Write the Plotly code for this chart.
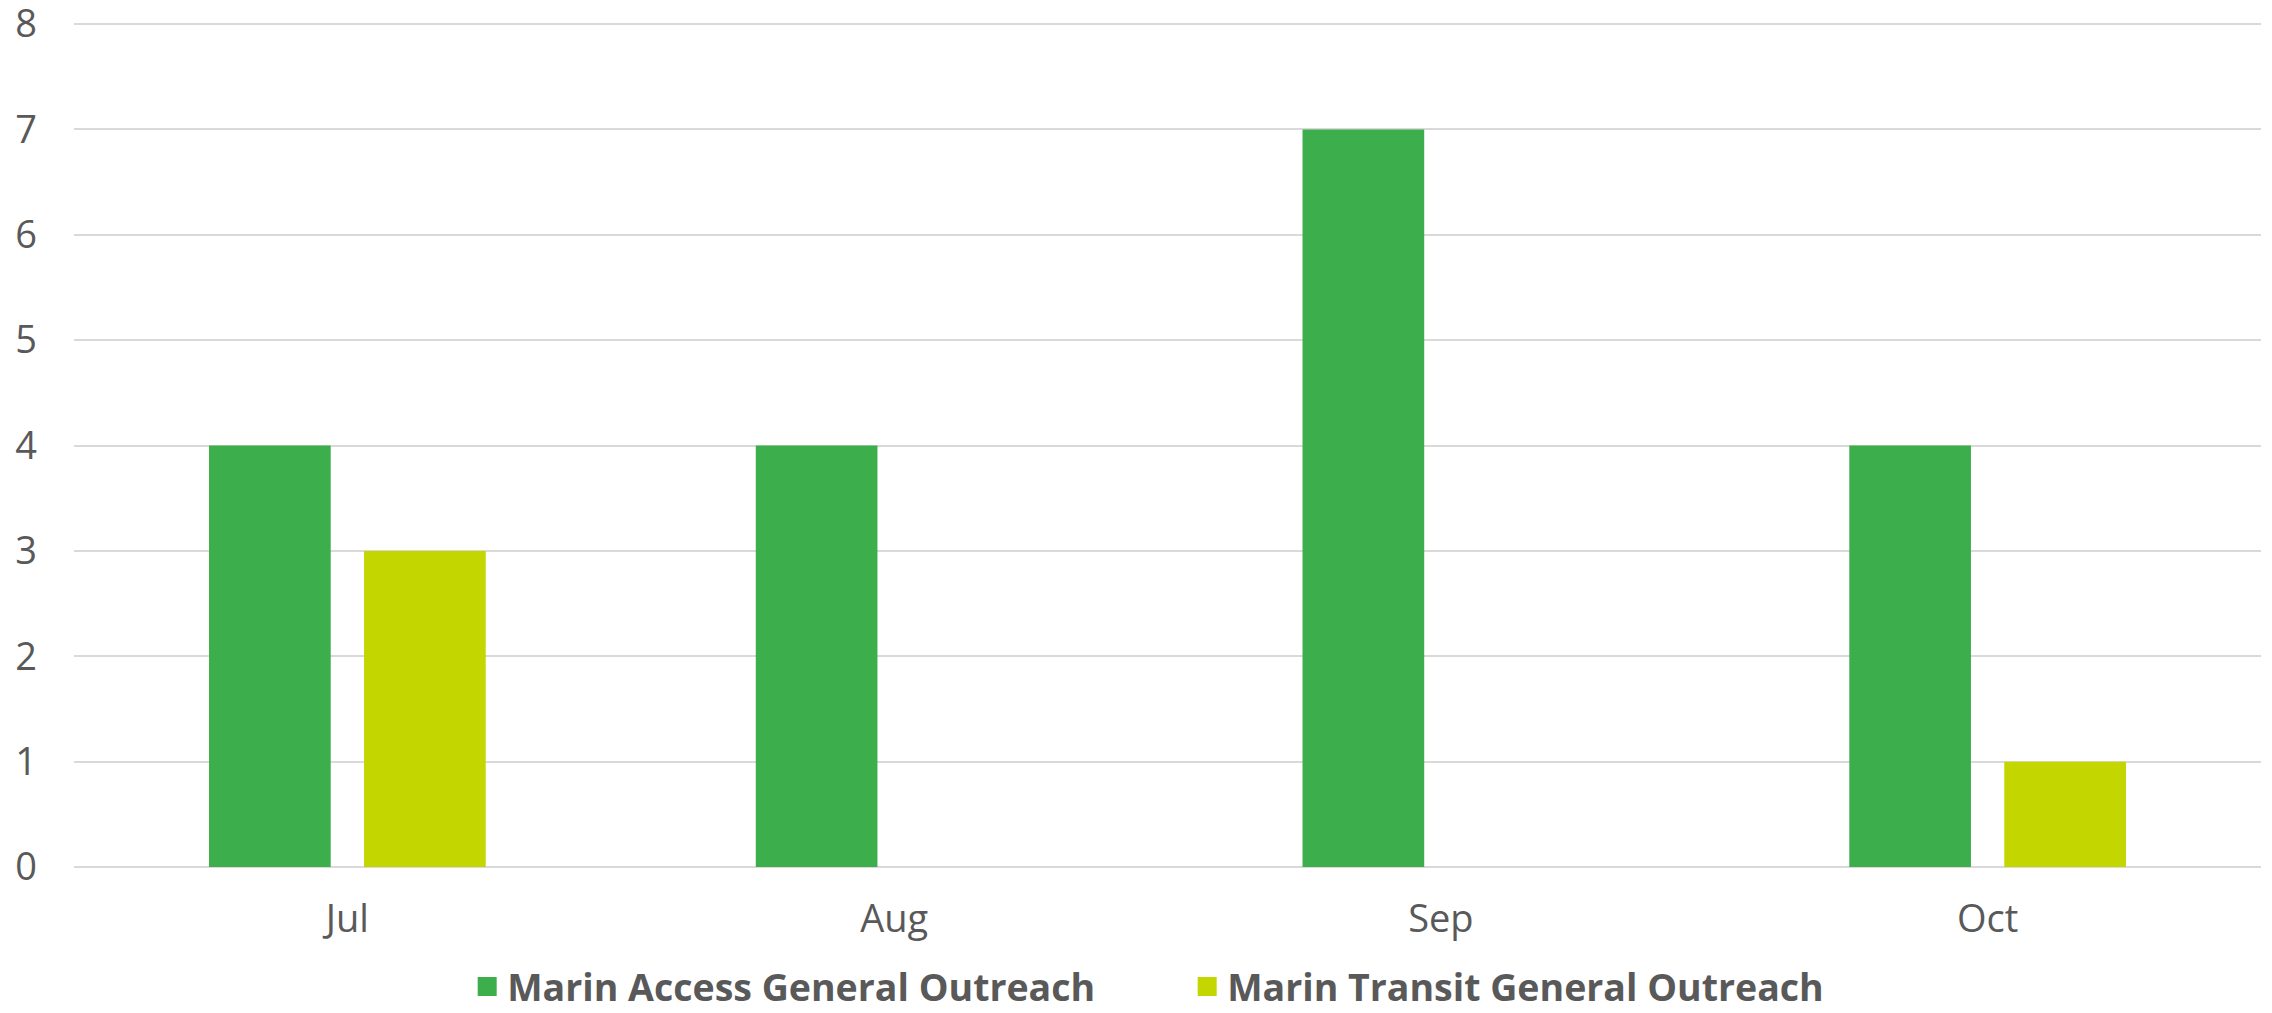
import plotly.graph_objects as go

months = ["Jul", "Aug", "Sep", "Oct"]
series_names = ["Marin Access General Outreach", "Marin Transit General Outreach"]
access_vals = [4, 4, 7, 4]
transit_vals = [3, None, None, 1]
colors = ["#3CAE4B", "#C3D600"]

fig = go.Figure()
for name, vals, col in zip(series_names, [access_vals, transit_vals], colors):
    fig.add_trace(go.Bar(x=months, y=vals, name=name, marker_color=col,
                         marker_line_width=0, showlegend=False, legendgroup=name))
for name, col in zip(series_names, colors):
    fig.add_trace(go.Scatter(x=[None], y=[None], mode="markers", name=name, legendgroup=name,
                             marker=dict(symbol="square", size=16, color=col,
                                         line=dict(color=col, width=3))))

fig.update_layout(
    width=2272, height=1013,
    margin=dict(l=74, r=11, t=23, b=146),
    plot_bgcolor="white", paper_bgcolor="white",
    barmode="group", bargap=0.433, bargroupgap=0.215,
    font=dict(family="Open Sans", size=38, color="#595959"),
    xaxis=dict(range=[-0.5, 3.5], showgrid=False, zeroline=False, showline=False, automargin=False,
               ticks="", ticklabelstandoff=26, tickfont=dict(size=38, color="#595959")),
    yaxis=dict(range=[0, 8.01], tickvals=list(range(9)), showgrid=True, gridcolor="#D9D9D9", gridwidth=2,
               zeroline=True, zerolinecolor="#D9D9D9", zerolinewidth=2, showline=False,
               automargin=False, ticks="", ticklabelstandoff=36, ticklabeloverflow="allow",
               tickfont=dict(size=38, color="#595959")),
    legend=dict(orientation="h", x=0.509, xanchor="center", yref="container", y=0.026,
                yanchor="middle", entrywidth=675,
                font=dict(size=37.5, color="#595959", family="Open Sans", weight="bold"),
                itemsizing="trace", traceorder="normal"),
    showlegend=True,
)

fig.write_html("out.html")
